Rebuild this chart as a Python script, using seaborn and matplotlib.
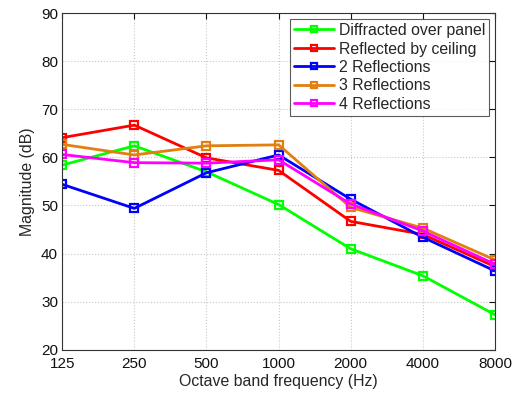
import matplotlib
matplotlib.use("Agg")
import matplotlib.pyplot as plt
import seaborn as sns
import pandas as pd

# Octave band centre frequencies (Hz)
freqs = [125, 250, 500, 1000, 2000, 4000, 8000]
tick_labels = ["125", "250", "500", "1000", "2000", "4000", "8000"]

# Magnitude per path (dB)
diffracted = [58.4, 62.4, 57.0, 50.2, 41.0, 35.4, 27.3]
reflected_ceiling = [64.1, 66.7, 59.9, 57.3, 46.7, 44.0, 37.3]
two_reflections = [54.4, 49.4, 56.8, 60.5, 51.3, 43.4, 36.4]
three_reflections = [62.7, 60.5, 62.4, 62.6, 49.6, 45.3, 38.7]
four_reflections = [60.6, 58.9, 58.8, 59.5, 50.3, 44.7, 37.8]

series_names = ["Diffracted over panel", "Reflected by ceiling", "2 Reflections",
                "3 Reflections", "4 Reflections"]
series_values = [diffracted, reflected_ceiling, two_reflections,
                 three_reflections, four_reflections]
colors = ["#00ff00", "#ff0000", "#0000ff", "#e08010", "#ff00ff"]

rows = []
for name, vals in zip(series_names, series_values):
    for f, v in zip(freqs, vals):
        rows.append({"freq": f, "mag": v, "path": name})
df = pd.DataFrame(rows)

sns.set_style("white")
plt.rcParams["font.family"] = ["Liberation Sans", "DejaVu Sans"]

fig = plt.figure(figsize=(5.14, 3.94), dpi=100)
ax = fig.add_axes([0.121, 0.112, 0.842, 0.855])

for name, col in zip(series_names, colors):
    sns.lineplot(data=df[df["path"] == name], x="freq", y="mag", ax=ax,
                 color=col, linewidth=2, marker="s", markersize=6,
                 markerfacecolor="none", markeredgecolor=col,
                 markeredgewidth=1.6, label=name, estimator=None, sort=False)

ax.set_xscale("log", base=2)
ax.set_xlim(125, 8000)
ax.set_xticks(freqs)
ax.set_xticklabels(tick_labels)
ax.minorticks_off()
ax.set_ylim(20, 90)
ax.set_yticks(range(20, 91, 10))

ax.grid(True, color="#c8c8c8", linestyle=":", linewidth=0.8)
for sp in ax.spines.values():
    sp.set_color("#333333")
    sp.set_linewidth(0.8)
ax.tick_params(direction="in", length=4, width=0.8, top=True, right=True,
               labelsize=11, colors="#111111")
ax.tick_params(axis="x", pad=5)
ax.tick_params(axis="y", pad=3)

ax.set_xlabel("Octave band frequency (Hz)", fontsize=11.4, labelpad=2)
ax.set_ylabel("Magnitude (dB)", fontsize=11.4, labelpad=4)

leg = ax.legend(loc="upper right", fontsize=11.4, frameon=True, fancybox=False,
                edgecolor="#333333", handlelength=2.5, borderpad=0.25,
                labelspacing=0.22, handletextpad=0.3, markerscale=0.7,
                borderaxespad=0, bbox_to_anchor=(0.986, 0.982))
leg.get_frame().set_linewidth(0.8)

fig.savefig("out.png", dpi=100)
